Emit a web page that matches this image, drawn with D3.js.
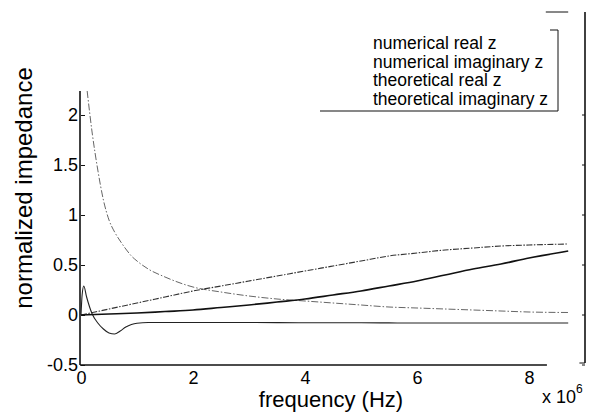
<!DOCTYPE html>
<html>
<head>
<meta charset="utf-8">
<script src="https://cdn.jsdelivr.net/npm/d3@7"></script>
<style>
  body { margin:0; background:#fff; }
  svg text { font-family: "Liberation Sans", Arial, Helvetica, sans-serif; fill:#000; }
</style>
</head>
<body>
<div id="chart"></div>
<script>
/*  Data  (frequency in units of 1e6 Hz)  */
var freqA     = [0, 0.02, 0.05, 0.1, 0.2, 0.3, 0.4, 0.5, 0.6, 0.7, 0.8, 0.9, 1.0, 1.2, 1.5, 2, 3, 4, 5, 6, 7, 8, 8.7];
var numRealZ  = [0, 0.2, 0.29, 0.18, 0.01, -0.08, -0.14, -0.18, -0.19, -0.16, -0.12, -0.095, -0.082, -0.075, -0.075, -0.075, -0.075, -0.078, -0.078, -0.08, -0.08, -0.08, -0.08];

var freqB     = [0.11, 0.2, 0.3, 0.4, 0.5, 0.6, 0.7, 0.8, 0.9, 1.0, 1.2, 1.5, 2, 2.5, 3, 3.5, 4, 4.5, 5, 5.5, 6, 6.5, 7, 7.5, 8, 8.7];
var numImagZ  = [2.24, 1.82, 1.45, 1.15, 0.95, 0.83, 0.74, 0.66, 0.59, 0.54, 0.46, 0.38, 0.28, 0.23, 0.19, 0.16, 0.14, 0.12, 0.10, 0.08, 0.07, 0.06, 0.05, 0.04, 0.03, 0.025];

var freqC     = [0, 0.5, 1, 1.5, 2, 2.5, 3, 3.5, 4, 4.5, 5, 5.5, 6, 6.5, 7, 7.5, 8, 8.7];
var theoRealZ = [0, 0.01, 0.02, 0.035, 0.05, 0.075, 0.1, 0.13, 0.16, 0.2, 0.24, 0.29, 0.34, 0.4, 0.46, 0.51, 0.57, 0.64];
var theoImagZ = [0, 0.06, 0.12, 0.18, 0.24, 0.29, 0.34, 0.39, 0.44, 0.49, 0.54, 0.59, 0.62, 0.65, 0.67, 0.69, 0.70, 0.71];

var xTicks = [0, 2, 4, 6, 8];
var yTicks = [-0.5, 0, 0.5, 1, 1.5, 2];
var legendLabels = ["numerical real z", "numerical imaginary z", "theoretical real z", "theoretical imaginary z"];


/*  Setup  */
var W = 594, H = 414;
var svg = d3.select("#chart").append("svg")
            .attr("width", W)
            .attr("height", H);

var x = d3.scaleLinear().domain([0, 9]).range([81, 585]);
var y = d3.scaleLinear().domain([-0.5, 3.03]).range([365, 12]);

function Line(x1, y1, x2, y2, w)
{
  return svg.append("line")
            .attr("x1", x1).attr("y1", y1)
            .attr("x2", x2).attr("y2", y2)
            .attr("stroke", "#111")
            .attr("stroke-width", w || 1);
}


/*  Axes  */
var yAxis = d3.axisLeft(y).tickValues(yTicks).tickSize(-4).tickPadding(3)
              .tickFormat(function(d){ return String(d); });
var gy = svg.append("g").attr("transform", "translate(" + x(0) + ",0)").call(yAxis);
gy.select(".domain").remove();
gy.selectAll("text").style("font-size", "18px");
gy.selectAll("line").attr("stroke", "#111");

var xAxis = d3.axisBottom(x).tickValues(xTicks).tickSize(0).tickPadding(6);
var gx = svg.append("g").attr("transform", "translate(0," + y(-0.5) + ")").call(xAxis);
gx.select(".domain").remove();
gx.selectAll("text").style("font-size", "18px");

// box pieces as they show in the scan
Line(x(0) - 1, y(2.24), x(0) - 1, y(-0.5), 1.6);
Line(x(0) - 1, y(-0.5), x(8.32), y(-0.5), 1.6);
Line(x(9), y(3.03), x(9), y(-0.48), 1.6);
Line(x(8.9), y(-0.48), x(9), y(-0.48));
Line(x(8.3), y(3.03), x(8.7), y(3.03));
yTicks.forEach(function(t){
  Line(x(9) - 3, y(t), x(9), y(t));
});


/*  Curves  */
var line = d3.line().curve(d3.curveMonotoneX);

function drawCurve(fr, vals, stroke, width, dash)
{
  var pts = fr.map(function(f, i){ return [x(f), y(vals[i])]; });
  svg.append("path")
     .attr("d", line(pts))
     .attr("fill", "none")
     .attr("stroke", stroke)
     .attr("stroke-width", width)
     .attr("stroke-dasharray", dash || null);
}

drawCurve(freqB, numImagZ, "#666", 1, "7,2,1.5,2");
drawCurve(freqC, theoImagZ, "#333", 1.1, "6,1.5,1.5,1.5");
drawCurve(freqA, numRealZ, "#222", 1.1);
drawCurve(freqC, theoRealZ, "#111", 1.7);


/*  Legend  */
var lgX = 373, lgTop = 49, lgStep = 18.5;
legendLabels.forEach(function(s, i){
  svg.append("text")
     .attr("x", lgX)
     .attr("y", lgTop + i * lgStep)
     .style("font-size", "17.5px")
     .text(s);
});
Line(558, 30, 558, 111);
Line(550, 30, 558, 30);
Line(320, 111, 558, 111, 1.2);


/*  Labels  */
svg.append("text")
   .attr("x", 331).attr("y", 407)
   .attr("text-anchor", "middle")
   .style("font-size", "22px")
   .text("frequency (Hz)");

var ex = svg.append("text")
   .attr("x", 542).attr("y", 403)
   .style("font-size", "18px");
ex.append("tspan").text("x 10");
ex.append("tspan").attr("dy", -10).style("font-size", "12px").text("6");

svg.append("text")
   .attr("transform", "translate(32,188) rotate(-90)")
   .attr("text-anchor", "middle")
   .style("font-size", "24px")
   .text("normalized impedance");
</script>
</body>
</html>
